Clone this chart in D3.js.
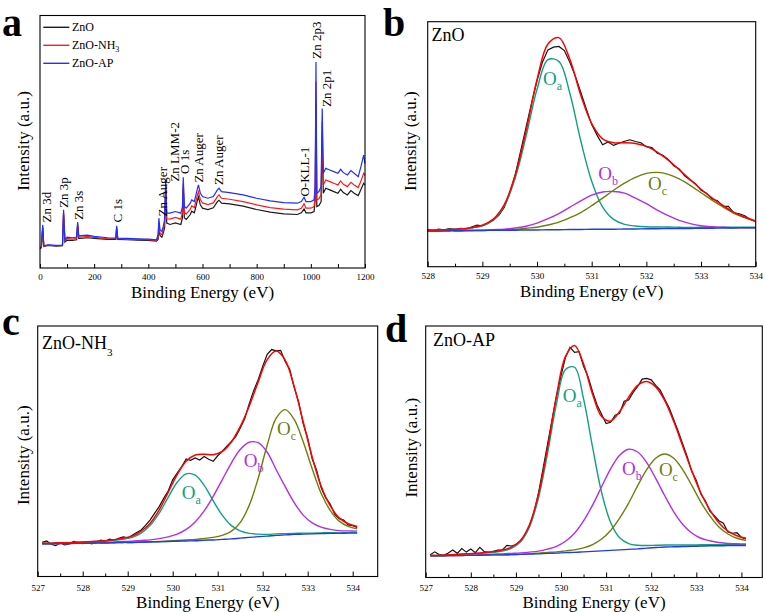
<!DOCTYPE html>
<html><head><meta charset="utf-8">
<script src="https://cdn.jsdelivr.net/npm/d3@7"></script>
<style>
body{margin:0;background:#fff}
svg text{font-family:"Liberation Serif","Times New Roman",serif !important;fill:#000}
</style></head>
<body><svg id="chart" width="765" height="612"></svg>
<script>
// ---------- Panel a: survey spectra ----------
const surveyEnergy = [0,5,10,14,30,60,83,87,92,100,120,135,139,143,160,175,200,250,280,283,287,320,360,400,430,436,439,443,450,455,460,464,468,480,500,520,526,529,533,540,555,560,570,580,585,592,600,620,640,655,661,670,700,750,800,850,900,950,965,975,982,1000,1012,1016,1019,1022,1030,1038,1042,1046,1055,1070,1085,1100,1110,1120,1135,1148,1160,1175,1185,1195,1200];
const surveyZnO = [58,61,120,65,68,66,67,160,78,84,83,85,126,89,90,91,89,86,86,118,86,85,84,83,81,86,120,98,93,105,120,235,135,131,136,131,151,238,151,146,161,171,166,200,214,190,180,176,181,200,204,195,193,186,176,168,163,161,166,178,166,166,170,205,500,185,188,200,400,225,240,235,230,225,237,227,220,233,225,218,236,255,250];
const surveyZnONH3 = [59,62,125,66,69,67,68,168,82,89,87,89,132,93,94,95,92,88,88,122,88,87,86,85,83,92,135,105,100,115,132,250,148,147,152,147,167,255,167,162,177,187,182,216,230,206,196,191,196,215,220,210,207,200,190,182,177,175,180,193,180,180,185,225,560,205,208,222,440,250,265,260,255,250,262,252,245,258,250,242,262,285,278];
const surveyZnOAP = [60,63,130,67,70,68,69,175,85,93,91,93,138,97,98,99,95,91,90,127,90,89,88,87,85,100,150,115,110,125,145,265,165,165,170,165,185,273,185,180,195,205,200,235,250,225,215,210,215,235,240,230,227,220,210,202,197,195,200,213,200,200,205,245,620,225,230,245,480,285,300,295,290,285,297,287,280,293,285,275,305,340,315];
const surveyTicks = [0,100,200,300,400,500,600,700,800,900,1000,1100,1200];
const surveyPeakNames = ["Zn 3d","Zn 3p","Zn 3s","C 1s","Zn Auger","Zn LMM-2","O 1s","Zn Auger","Zn Auger","O-KLL-1","Zn 2p3","Zn 2p1"];
const surveyPeakLabelEnergy = [23,88,141,286,453,498,535,584,660,978,1021,1058];
const surveyPeakLabelLevel = [137,181,145,137,155,260,283,257,250,215,630,485];
const surveySeriesNames = ["ZnO","ZnO-NH","ZnO-AP"];

// ---------- Panel b: ZnO O 1s ----------
const bFitEnergy = [528.0,528.2,528.4,528.6,528.8,529.0,529.2,529.4,529.6,529.8,530.0,530.2,530.4,530.6,530.8,531.0,531.2,531.4,531.6,531.8,532.0,532.2,532.4,532.6,532.8,533.0,533.2,533.4,533.6,533.8,534.0];
const bBackground = [14.6,14.6,14.7,14.7,14.8,14.8,14.9,14.9,14.9,15.0,15.0,15.1,15.1,15.2,15.2,15.3,15.3,15.3,15.4,15.4,15.5,15.5,15.6,15.6,15.6,15.7,15.7,15.8,15.8,15.9,15.9];
const bOa = [14.9,15.0,15.2,15.4,15.9,16.8,19.1,24.7,36.1,53.3,72.4,84.5,83.8,70.8,51.4,34.9,24.3,19.3,17.3,16.6,16.3,16.2,16.2,16.1,16.0,16.1,16.0,16.1,16.1,16.1,16.1];
const bOb = [14.6,14.6,14.7,14.7,14.8,14.9,15.1,15.3,15.8,16.5,17.8,19.6,21.7,24.3,26.9,29.2,30.5,30.7,30.0,28.0,25.7,23.1,20.8,18.9,17.6,16.7,16.3,16.1,15.9,15.9,15.9];
const bOc = [14.6,14.6,14.7,14.7,14.8,14.8,15.0,15.1,15.2,15.7,16.1,17.0,18.2,20.0,22.1,24.9,28.0,31.2,34.1,36.5,38.1,38.5,37.7,35.8,33.2,30.2,27.2,24.4,21.8,20.0,18.5];
const bFit = [14.9,15.0,15.2,15.4,15.9,16.9,19.4,25.3,37.3,55.5,76.3,90.9,93.5,84.7,70.0,58.4,52.2,50.6,50.6,50.3,49.1,46.8,43.5,39.6,35.6,31.6,28.1,25.0,22.2,20.2,18.7];
const bRawEnergy = [528.0,528.1,528.2,528.3,528.4,528.5,528.6,528.7,528.8,528.9,529.0,529.1,529.2,529.3,529.4,529.5,529.6,529.7,529.8,529.9,530.0,530.1,530.2,530.3,530.4,530.5,530.6,530.7,530.8,530.9,531.0,531.1,531.2,531.3,531.4,531.5,531.6,531.7,531.8,531.9,532.0,532.1,532.2,532.3,532.4,532.5,532.6,532.7,532.8,532.9,533.0,533.1,533.2,533.3,533.4,533.5,533.6,533.7,533.8,533.9,534.0];
const bRaw = [15.2,14.7,15.3,15.0,15.5,15.1,15.6,15.4,16.2,17.0,16.7,17.6,19.0,21.0,24.2,30.0,37.5,47.2,57.0,66.8,76.0,83.6,88.5,89.6,89.9,88.2,83.4,77.8,71.2,64.5,58.0,53.6,49.8,50.9,49.5,50.4,51.2,51.8,51.1,50.6,49.0,48.6,46.3,45.5,43.8,41.2,39.9,37.1,35.4,33.9,31.2,30.0,27.6,26.9,24.7,24.6,22.0,21.6,20.8,19.3,18.4];
const bTicks = [528,529,530,531,532,533,534];

// ---------- Panels c and d share energy grids ----------
const cdFitEnergy = [527.1,527.3,527.5,527.7,527.9,528.1,528.3,528.5,528.7,528.9,529.1,529.3,529.5,529.7,529.9,530.1,530.3,530.5,530.7,530.9,531.1,531.3,531.5,531.7,531.9,532.1,532.3,532.5,532.7,532.9,533.1,533.3,533.5,533.7,533.9,534.1];
const cdRawEnergy = [527.1,527.2,527.3,527.4,527.5,527.6,527.7,527.8,527.9,528.0,528.1,528.2,528.3,528.4,528.5,528.6,528.7,528.8,528.9,529.0,529.1,529.2,529.3,529.4,529.5,529.6,529.7,529.8,529.9,530.0,530.1,530.2,530.3,530.4,530.5,530.6,530.7,530.8,530.9,531.0,531.1,531.2,531.3,531.4,531.5,531.6,531.7,531.8,531.9,532.0,532.1,532.2,532.3,532.4,532.5,532.6,532.7,532.8,532.9,533.0,533.1,533.2,533.3,533.4,533.5,533.6,533.7,533.8,533.9,534.0,534.1];
const cdTicks = [527,528,529,530,531,532,533,534];

// ---------- Panel c: ZnO-NH3 O 1s ----------
const cBackground = [13.1,13.1,13.2,13.2,13.3,13.3,13.4,13.4,13.5,13.6,13.6,13.7,13.8,13.9,14.0,14.1,14.2,14.3,14.5,14.6,14.8,15.0,15.3,15.6,15.9,16.1,16.4,16.6,16.8,16.9,17.0,17.1,17.2,17.2,17.3,17.3];
const cOa = [13.3,13.3,13.5,13.5,13.7,13.8,14.0,14.1,14.4,14.9,15.6,17.3,20.4,25.3,31.6,37.6,41.0,40.5,36.4,30.2,24.5,20.4,18.2,17.2,16.9,16.8,17.0,17.1,17.2,17.3,17.3,17.4,17.5,17.4,17.5,17.5];
const cOb = [13.1,13.1,13.2,13.2,13.3,13.4,13.5,13.6,13.8,14.0,14.1,14.4,14.6,15.1,15.8,16.9,18.8,21.8,26.2,32.0,38.6,45.2,50.7,53.6,53.4,49.6,42.6,35.9,29.5,24.5,21.4,19.7,18.8,18.3,18.2,18.1];
const cOc = [13.1,13.1,13.2,13.2,13.3,13.3,13.4,13.4,13.5,13.6,13.6,13.8,13.9,14.0,14.2,14.4,14.6,14.8,15.2,15.6,16.4,18.0,21.5,28.4,39.2,52.4,63.2,66.6,62.7,53.8,43.0,33.1,26.4,22.1,20.0,19.0];
const cFit = [13.3,13.3,13.5,13.5,13.7,13.9,14.1,14.3,14.7,15.3,16.1,18.1,21.3,26.6,33.6,40.7,46.0,48.5,48.8,48.6,49.9,53.6,59.8,68.0,77.7,86.6,90.0,86.4,75.8,61.8,47.7,36.0,28.3,23.4,21.1,20.0];
const cRaw = [13.6,14.2,12.9,12.3,13.4,12.6,13.0,14.0,13.5,13.1,13.8,13.0,13.6,14.5,14.1,14.9,14.4,15.2,15.8,15.4,16.5,17.6,18.6,20.5,22.6,25.3,27.9,31.2,34.1,38.6,41.3,43.9,46.9,46.4,47.3,46.5,47.9,46.8,46.0,48.2,50.0,51.9,53.8,55.8,59.2,63.0,68.9,74.2,78.6,83.9,88.7,90.6,90.1,90.3,85.8,82.7,75.5,69.6,61.0,55.2,47.0,42.3,35.4,31.4,28.9,24.9,23.1,22.5,20.6,20.3,19.6];

// ---------- Panel d: ZnO-AP O 1s ----------
const dBackground = [8.6,8.6,8.7,8.7,8.8,8.8,8.9,9.0,9.0,9.1,9.2,9.3,9.4,9.6,9.7,9.9,10.0,10.2,10.4,10.6,10.8,11.0,11.2,11.4,11.7,11.9,12.1,12.2,12.3,12.4,12.5,12.6,12.6,12.7,12.7,12.7];
const dOa = [8.8,8.8,9.0,9.1,9.3,9.4,9.7,10.0,10.5,11.6,14.1,20.0,31.6,49.2,69.1,82.7,83.6,71.0,51.8,33.8,21.9,15.8,13.5,12.8,12.7,12.8,12.9,12.9,12.9,12.9,13.0,13.0,13.0,13.0,13.0,13.0];
const dOb = [8.6,8.6,8.7,8.8,8.9,9.0,9.1,9.3,9.4,9.6,9.8,10.1,10.5,11.3,12.4,14.4,17.6,22.5,28.8,36.1,43.2,48.6,51.0,49.9,45.7,39.4,32.5,26.1,21.1,17.7,15.6,14.6,13.9,13.5,13.4,13.3];
const dOc = [8.6,8.6,8.7,8.7,8.8,8.8,8.9,9.0,9.0,9.1,9.2,9.5,9.7,10.0,10.2,10.6,11.0,11.8,13.1,15.3,18.7,23.6,29.6,36.5,42.9,47.4,49.1,47.4,42.8,36.6,30.0,24.5,20.1,17.3,15.6,14.7];
const dFit = [8.8,8.8,9.0,9.2,9.4,9.6,9.9,10.3,10.9,12.1,14.7,21.0,33.0,51.3,72.3,87.9,92.2,84.9,72.9,64.0,62.2,66.0,71.7,76.4,77.9,75.8,70.3,62.0,52.2,42.4,33.6,26.9,21.8,18.4,16.6,15.6];
const dRaw = [9.0,10.2,9.1,8.8,9.7,10.9,9.6,11.5,10.1,11.3,9.9,12.0,10.3,10.0,10.4,10.9,11.0,12.8,12.5,13.0,14.4,17.0,20.5,25.8,33.5,43.1,52.8,62.6,72.0,80.2,87.6,91.5,89.5,89.8,84.0,79.8,73.9,68.6,64.9,61.2,61.7,64.5,65.3,70.1,70.6,73.6,76.0,78.9,79.2,78.6,76.4,74.5,70.9,67.4,62.7,58.1,53.0,47.9,42.1,38.6,33.2,30.5,26.4,24.6,22.6,21.6,18.1,17.6,17.8,15.9,15.3];

// component label anchors (energy, intensity) and subscripts
const compSubs = ["a","b","c"];
const bLabelEnergy = [530.11,531.12,532.03], bLabelLevel = [74.2,35.4,31.3];
const cLabelEnergy = [530.20,531.58,532.32], cLabelLevel = [30.9,43.8,56.5];
const dLabelEnergy = [530.04,531.35,532.17], dLabelLevel = [69.9,40.8,40.4];

// ---------- drawing ----------
const FONT = '"Liberation Serif","Times New Roman",serif';
const svg = d3.select("#chart");
const COL = {raw:"#111", fit:"#ff0000", bg:"#1f3fe0", Oa:"#10a083", Ob:"#b030e8", Oc:"#6e7f0c",
             s0:"#1a1a1a", s1:"#ff1a1a", s2:"#1f2fff"};

function txt(sel) { return sel.style("font-family", FONT); }
function frame(g, x0, y0, x1, y1) {
  g.append("rect").attr("x", x0).attr("y", y0).attr("width", x1 - x0).attr("height", y1 - y0)
   .attr("fill", "none").attr("stroke", "#000").attr("stroke-width", 1.1);
}
function bottomAxis(g, x, y1, major, minor, pad, majorLen, minorLen, showAll) {
  const ax = g.append("g").attr("transform", `translate(0,${y1})`)
    .call(d3.axisBottom(x).tickValues(major).tickSize(-majorLen).tickPadding(pad)
      .tickFormat(d => showAll(d) ? d : ""));
  ax.attr("font-family", null);
  ax.select(".domain").remove();
  ax.selectAll("line").attr("stroke", "#000");
  ax.selectAll("text").style("font-size", "9px").style("font-family", FONT).attr("fill", "#000");
  if (minor) {
    const mx = g.append("g").attr("transform", `translate(0,${y1})`)
      .call(d3.axisBottom(x).tickValues(minor).tickSize(-minorLen).tickFormat(""));
    mx.select(".domain").remove();
    mx.selectAll("text").remove();
    mx.selectAll("line").attr("stroke", "#000");
  }
}
function titles(g, cx, xBase, yCx, yCy) {
  txt(g.append("text")).attr("x", cx).attr("y", xBase).attr("text-anchor", "middle")
    .style("font-size", "17px").text("Binding Energy (eV)");
  txt(g.append("text")).attr("transform", `translate(${yCx},${yCy}) rotate(-90)`).attr("text-anchor", "middle")
    .style("font-size", "17px").text("Intensity (a.u.)");
}
function letter(g, t, x, y) {
  txt(g.append("text")).attr("x", x).attr("y", y).style("font-size", "40px").style("font-weight", "bold").text(t);
}

// Panel a
(function(){
  const g = svg.append("g");
  const x0 = 40, x1 = 365, y0 = 15.5, y1 = 268;
  const x = d3.scaleLinear().domain([0, 1200]).range([x0, x1]);
  const y = d3.scaleLinear().domain([0, 760]).range([y1, y0]);
  const line = arr => d3.line().x((d, i) => x(surveyEnergy[i])).y(d => y(d))(arr);
  [[surveyZnO, COL.s0], [surveyZnONH3, COL.s1], [surveyZnOAP, COL.s2]].forEach(([arr, c]) => {
    g.append("path").attr("d", line(arr)).attr("fill", "none").attr("stroke", c).attr("stroke-width", 1.2);
  });
  frame(g, x0, y0, x1, y1);
  bottomAxis(g, x, y1, surveyTicks, null, 5.5, 4, 0, d => d % 200 === 0);
  titles(g, 202.5, 297.5, 28.5, 141);
  letter(g, "a", 2, 36);
  surveyPeakNames.forEach((t, i) => {
    txt(g.append("text"))
      .attr("transform", `translate(${x(surveyPeakLabelEnergy[i])},${y(surveyPeakLabelLevel[i])}) rotate(-90)`)
      .attr("dominant-baseline", "central").style("font-size", "13px").text(t);
  });
  const cols = [COL.s0, COL.s1, COL.s2];
  surveySeriesNames.forEach((t, i) => {
    const ly = 27.3 + i * 18;
    g.append("line").attr("x1", 43.3).attr("x2", 69.3).attr("y1", ly).attr("y2", ly)
      .attr("stroke", cols[i]).attr("stroke-width", 1.4);
    const tx = txt(g.append("text")).attr("x", 72).attr("y", ly + 4).style("font-size", "12px").text(t);
    if (i === 1) tx.append("tspan").attr("dy", 3).style("font-size", "8px").text("3");
  });
})();

// High-resolution panels
function hrPanel(o) {
  const g = svg.append("g");
  const x = d3.scaleLinear().domain(o.xDomain).range([o.x0, o.x1]);
  const y = d3.scaleLinear().domain([0, 100]).range([o.y1, o.y0]);
  const fitLine = arr => d3.line().curve(d3.curveCatmullRom.alpha(0.5))
      .x((d, i) => x(o.fitE[i])).y(d => y(d))(arr);
  const rawLine = d3.line().x((d, i) => x(o.rawE[i])).y(d => y(d));
  g.append("path").attr("d", rawLine(o.raw)).attr("fill", "none").attr("stroke", COL.raw).attr("stroke-width", 1.2);
  g.append("path").attr("d", fitLine(o.Oa)).attr("fill", "none").attr("stroke", COL.Oa).attr("stroke-width", 1.4);
  g.append("path").attr("d", fitLine(o.Ob)).attr("fill", "none").attr("stroke", COL.Ob).attr("stroke-width", 1.4);
  g.append("path").attr("d", fitLine(o.Oc)).attr("fill", "none").attr("stroke", COL.Oc).attr("stroke-width", 1.4);
  g.append("path").attr("d", fitLine(o.bg)).attr("fill", "none").attr("stroke", COL.bg).attr("stroke-width", 1.4);
  g.append("path").attr("d", fitLine(o.fit)).attr("fill", "none").attr("stroke", COL.fit).attr("stroke-width", 1.5);
  frame(g, o.x0, o.y0, o.x1, o.y1);
  const minor = o.ticks.slice(0, -1).map(t => t + 0.5);
  bottomAxis(g, x, o.y1, o.ticks, minor, o.pad, 5, 3, () => true);
  titles(g, (o.x0 + o.x1) / 2, o.xTitleY, o.yTitleX, (o.y0 + o.y1) / 2 + o.yTitleDy);
  letter(g, o.letter, o.lx, o.ly);
  const st = txt(g.append("text")).attr("x", o.sx).attr("y", o.sy).style("font-size", "18px").text(o.sample);
  if (o.sub) st.append("tspan").attr("dy", 7).style("font-size", "11px").text(o.sub);
  const cols = [COL.Oa, COL.Ob, COL.Oc];
  compSubs.forEach((s, i) => {
    const t = txt(g.append("text")).attr("x", x(o.labE[i])).attr("y", y(o.labV[i]))
      .style("font-size", "19px").style("fill", cols[i]).text("O");
    t.append("tspan").attr("dy", 5).style("font-size", "12px").style("fill", cols[i]).text(s);
  });
}

hrPanel({x0: 427.7, x1: 755.7, y0: 21.7, y1: 266.7, xDomain: [528, 534], ticks: bTicks, pad: 6.3,
  fitE: bFitEnergy, rawE: bRawEnergy, raw: bRaw, fit: bFit, bg: bBackground, Oa: bOa, Ob: bOb, Oc: bOc,
  xTitleY: 297, yTitleX: 416, yTitleDy: -3, letter: "b", lx: 383, ly: 36,
  sample: "ZnO", sx: 431.5, sy: 40.5, labE: bLabelEnergy, labV: bLabelLevel});

hrPanel({x0: 37.7, x1: 377.7, y0: 326, y1: 576.5, xDomain: [527, 534.556], ticks: cdTicks, pad: 8,
  fitE: cdFitEnergy, rawE: cdRawEnergy, raw: cRaw, fit: cFit, bg: cBackground, Oa: cOa, Ob: cOb, Oc: cOc,
  xTitleY: 608, yTitleX: 29.3, yTitleDy: 4, letter: "c", lx: 2, ly: 335,
  sample: "ZnO-NH", sub: "3", sx: 42, sy: 348.5, labE: cLabelEnergy, labV: cLabelLevel});

hrPanel({x0: 425.7, x1: 762.3, y0: 326, y1: 577.5, xDomain: [527, 534.463], ticks: cdTicks, pad: 7,
  fitE: cdFitEnergy, rawE: cdRawEnergy, raw: dRaw, fit: dFit, bg: dBackground, Oa: dOa, Ob: dOb, Oc: dOc,
  xTitleY: 608, yTitleX: 416.7, yTitleDy: -4, letter: "d", lx: 385, ly: 342,
  sample: "ZnO-AP", sx: 433, sy: 346, labE: dLabelEnergy, labV: dLabelLevel});
</script></body></html>
